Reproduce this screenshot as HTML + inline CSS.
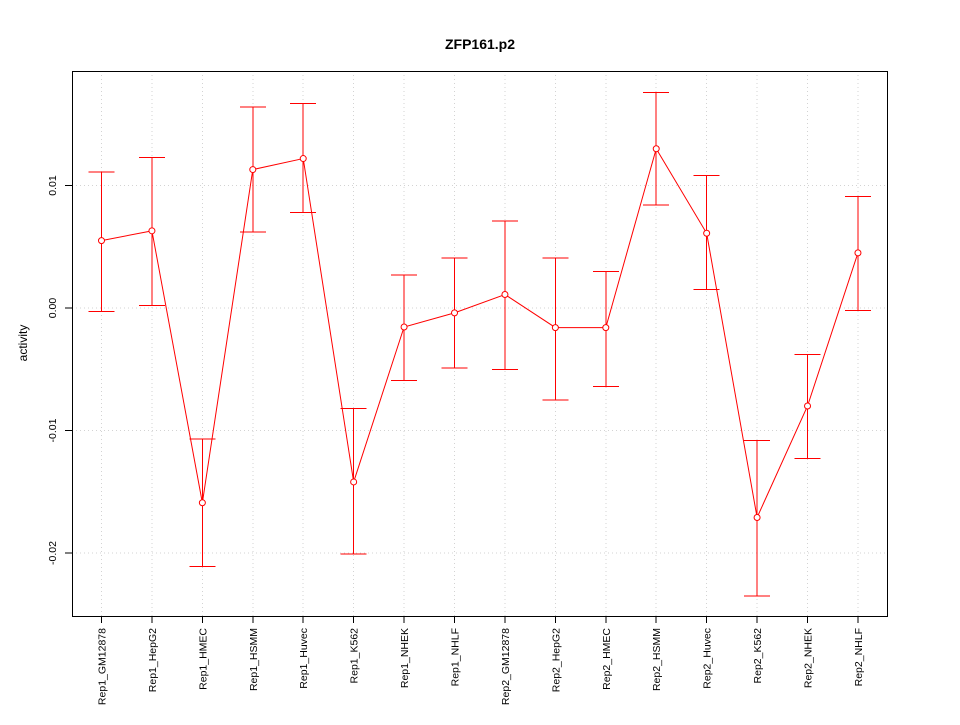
<!DOCTYPE html>
<html><head><meta charset="utf-8"><style>
body{margin:0;background:#fff}
svg text{font-family:"Liberation Sans",sans-serif;}
</style></head><body>
<svg id="chart" width="960" height="720" xmlns="http://www.w3.org/2000/svg">
<text x="480" y="49" text-anchor="middle" font-size="14" font-weight="bold">ZFP161.p2</text>
<text transform="translate(27,343) rotate(-90)" text-anchor="middle" font-size="12">activity</text>
<g id="grid" shape-rendering="crispEdges"></g><g id="axes" shape-rendering="crispEdges"></g><g id="marks"></g>
<rect x="72.5" y="71.5" width="815" height="545" fill="none" stroke="#000" shape-rendering="crispEdges"/>
</svg>
<script>
const categories=["Rep1_GM12878","Rep1_HepG2","Rep1_HMEC","Rep1_HSMM","Rep1_Huvec","Rep1_K562","Rep1_NHEK","Rep1_NHLF","Rep2_GM12878","Rep2_HepG2","Rep2_HMEC","Rep2_HSMM","Rep2_Huvec","Rep2_K562","Rep2_NHEK","Rep2_NHLF"];
const values=[0.0055,0.0063,-0.0159,0.0113,0.0122,-0.0142,-0.00155,-0.0004,0.0011,-0.0016,-0.0016,0.0130,0.0061,-0.0171,-0.0080,0.0045];
const upper=[0.0111,0.0123,-0.0107,0.0164,0.0167,-0.0082,0.0027,0.0041,0.0071,0.0041,0.0030,0.0176,0.0108,-0.0108,-0.0038,0.0091];
const lower=[-0.0003,0.0002,-0.0211,0.0062,0.0078,-0.0201,-0.0059,-0.0049,-0.0050,-0.0075,-0.0064,0.0084,0.0015,-0.0235,-0.0123,-0.0002];
const yTicks=[-0.02,-0.01,0,0.01];
const yTickLabels=["-0.02","-0.01","0.00","0.01"];
const NS="http://www.w3.org/2000/svg";
const xs=i=>101.5+i*50.43;
const ys=v=>308-v*12250;
function mk(tag,attrs,parent){const e=document.createElementNS(NS,tag);for(const k in attrs)e.setAttribute(k,attrs[k]);document.getElementById(parent).appendChild(e);return e;}
categories.forEach((c,i)=>{
 const g=mk("line",{x1:xs(i),x2:xs(i),y1:71,y2:616,stroke:"#d3d3d3","stroke-dasharray":"1,3"},"grid");
 
 
 const t=mk("line",{x1:xs(i),x2:xs(i),y1:616,y2:623,stroke:"#000"},"axes");
 
 
 const l=mk("text",{transform:`translate(${xs(i)+4},628) rotate(-90)`,"text-anchor":"end","font-size":"10.5"},"axes");
 l.textContent=c;
 
 
});
yTicks.forEach((v,i)=>{
 const g=mk("line",{x1:72,x2:887,y1:ys(v),y2:ys(v),stroke:"#d3d3d3","stroke-dasharray":"1,3"},"grid");
 
 
 const t=mk("line",{x1:65,x2:72,y1:ys(v),y2:ys(v),stroke:"#000"},"axes");
 
 
 const l=mk("text",{transform:`translate(56,${ys(v)}) rotate(-90)`,"text-anchor":"middle","font-size":"10.5"},"axes");
 l.textContent=yTickLabels[i];
 
 
});
const line=mk("polyline",{points:values.map((v,i)=>xs(i)+","+ys(v)).join(" "),fill:"none",stroke:"#ff0000"},"marks");


values.forEach((v,i)=>{
 const x=xs(i);
 const e=mk("path",{d:`M${x},${ys(lower[i])}V${ys(upper[i])}M${x-13},${ys(upper[i])}H${x+13}M${x-13},${ys(lower[i])}H${x+13}`,stroke:"#ff0000",fill:"none","shape-rendering":"crispEdges"},"marks");
 
 
 const p=mk("circle",{cx:x,cy:ys(v),r:3,fill:"#fff",stroke:"#ff0000"},"marks");
 
 
});
</script>
</body></html>
